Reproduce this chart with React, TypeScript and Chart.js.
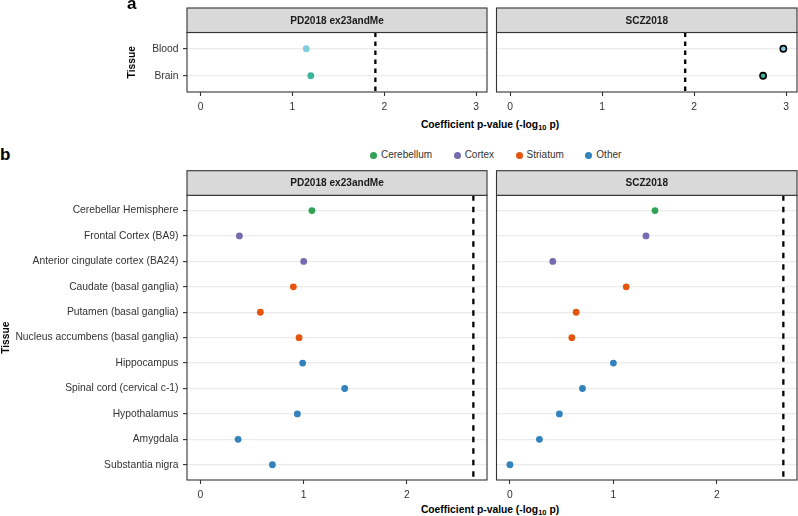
import React, { useEffect, useRef } from 'react';
import { Chart, registerables } from 'chart.js';

Chart.register(...registerables);

const FONT = '"Liberation Sans", Arial, Helvetica, sans-serif';
Chart.defaults.font.family = FONT;

// ---------- data ----------
const facetNames = ['PD2018 ex23andMe', 'SCZ2018'];

// panel a
const tissuesA = ['Blood', 'Brain'];
const colorsA = ['#7fcbe0', '#3db39b'];
const pdA = [1.15, 1.2];
const sczA = [2.97, 2.75];
const thresholdA = 1.903;
const xTicksA = [0, 1, 2, 3];

// panel b
const tissuesB = [
  'Cerebellar Hemisphere',
  'Frontal Cortex (BA9)',
  'Anterior cingulate cortex (BA24)',
  'Caudate (basal ganglia)',
  'Putamen (basal ganglia)',
  'Nucleus accumbens (basal ganglia)',
  'Hippocampus',
  'Spinal cord (cervical c-1)',
  'Hypothalamus',
  'Amygdala',
  'Substantia nigra',
];
const groupOfB = [
  'Cerebellum', 'Cortex', 'Cortex', 'Striatum', 'Striatum', 'Striatum',
  'Other', 'Other', 'Other', 'Other', 'Other',
];
const pdB = [1.08, 0.377, 1.0, 0.9, 0.58, 0.955, 0.99, 1.397, 0.939, 0.365, 0.697];
const sczB = [1.402, 1.315, 0.414, 1.124, 0.64, 0.598, 1.0, 0.701, 0.478, 0.285, 0.0];
const thresholdB = 2.643;
const xTicksB = [0, 1, 2];
const groupNames = ['Cerebellum', 'Cortex', 'Striatum', 'Other'];
const groupColors = ['#31a354', '#756bb1', '#e6550d', '#3182bd'];

// ---------- plugin ----------
const facetPlugin = {
  id: 'facetFrame',
  afterDraw(chart: any, _args: any, opts: any) {
    const { ctx, chartArea } = chart;
    const { left, right, top, bottom } = chartArea;
    ctx.save();
    ctx.lineWidth = 1.1;
    ctx.strokeStyle = '#333333';
    ctx.strokeRect(left, top, right - left, bottom - top);
    const hTop = opts.headerTop;
    ctx.fillStyle = '#d9d9d9';
    ctx.fillRect(left, hTop, right - left, top - hTop);
    ctx.strokeRect(left, hTop, right - left, top - hTop);
    ctx.fillStyle = '#1a1a1a';
    ctx.font = `bold 10.1px ${FONT}`;
    ctx.textAlign = 'center';
    ctx.textBaseline = 'middle';
    ctx.fillText(opts.title, (left + right) / 2, (hTop + top) / 2 + 0.5);
    ctx.restore();
  },
};

type FacetProps = {
  left: number; top: number; width: number; height: number;
  padTop: number; padLeft: number; padRight: number;
  yWidth: number; xHeight: number; headerTop: number;
  title: string; categories: string[]; showY: boolean;
  xMin: number; xMax: number; xTicks: number[];
  datasets: any[];
};

function Facet(p: FacetProps) {
  const ref = useRef<HTMLCanvasElement>(null);
  useEffect(() => {
    const n = p.categories.length;
    const chart = new Chart(ref.current as HTMLCanvasElement, {
      type: 'scatter',
      data: { datasets: p.datasets },
      options: {
        animation: false,
        responsive: false,
        devicePixelRatio: 1,
        events: [],
        layout: { padding: { top: p.padTop, left: p.padLeft, right: p.padRight, bottom: 0 } },
        plugins: {
          legend: { display: false },
          tooltip: { enabled: false },
          facetFrame: { headerTop: p.headerTop, title: p.title },
        } as any,
        scales: {
          x: {
            type: 'linear',
            position: 'bottom',
            min: p.xMin,
            max: p.xMax,
            afterBuildTicks: (s: any) => { s.ticks = p.xTicks.map((v) => ({ value: v })); },
            afterFit: (s: any) => { s.height = p.xHeight; },
            grid: { drawOnChartArea: false, drawTicks: true, tickLength: 4, tickColor: '#333333', tickWidth: 1.1 },
            border: { display: false },
            ticks: { font: { size: 10.3 }, color: '#333333', padding: 4.5, maxRotation: 0, autoSkip: false },
          },
          y: {
            type: 'linear',
            position: 'left',
            min: -0.6,
            max: n - 0.4,
            reverse: true,
            afterBuildTicks: (s: any) => { s.ticks = p.categories.map((_, i) => ({ value: i })); },
            afterFit: (s: any) => { s.width = p.yWidth; },
            grid: {
              color: '#ebebeb', lineWidth: 1.2,
              drawTicks: p.showY, tickLength: 4, tickColor: '#333333', tickWidth: 1.1,
            },
            border: { display: false },
            ticks: {
              display: p.showY, autoSkip: false, padding: 4.5,
              font: { size: 10.3 }, color: '#333333',
              callback: (v: any) => p.categories[Math.round(Number(v))] ?? '',
            },
            title: {
              display: p.showY, text: 'Tissue', color: '#000000',
              font: { size: 10.3, weight: 'bold' }, padding: 0,
            },
          },
        },
      } as any,
      plugins: [facetPlugin as any],
    });
    return () => chart.destroy();
  }, []);
  return (
    <canvas
      ref={ref}
      width={p.width}
      height={p.height}
      style={{ position: 'absolute', left: p.left, top: p.top, width: p.width, height: p.height }}
    />
  );
}

function thresholdLine(thr: number, n: number, dash: number[]) {
  return {
    label: 'threshold',
    showLine: true,
    data: [{ x: thr, y: -0.6 }, { x: thr, y: n - 0.4 }],
    borderColor: '#000000',
    borderWidth: 2.3,
    borderDash: dash,
    pointRadius: 0,
    fill: false,
  };
}

function datasetsA(values: number[]) {
  const ds: any[] = tissuesA.map((t, i) => {
    const sig = values[i] > thresholdA;
    return {
      label: t,
      data: [{ x: values[i], y: i }],
      backgroundColor: colorsA[i],
      borderColor: '#000000',
      pointRadius: sig ? 3.1 : 3.4,
      pointBorderWidth: sig ? 1.6 : 0,
    };
  });
  ds.push(thresholdLine(thresholdA, tissuesA.length, [4.5, 4.5]));
  return ds;
}

function datasetsB(values: number[]) {
  const ds: any[] = groupNames.map((g, gi) => ({
    label: g,
    data: tissuesB
      .map((_, i) => i)
      .filter((i) => groupOfB[i] === g)
      .map((i) => ({ x: values[i], y: i })),
    backgroundColor: groupColors[gi],
    borderColor: '#000000',
    pointRadius: 3.4,
    pointBorderWidth: 0,
  }));
  ds.push(thresholdLine(thresholdB, tissuesB.length, [5.5, 6]));
  return ds;
}

const labelStyle: React.CSSProperties = {
  position: 'absolute', fontFamily: FONT, fontWeight: 'bold', fontSize: 17,
  lineHeight: '17px', color: '#000', whiteSpace: 'nowrap',
};

function AxisTitle({ top }: { top: number }) {
  return (
    <div
      style={{
        position: 'absolute', left: 185, width: 610, top, textAlign: 'center',
        fontFamily: FONT, fontWeight: 'bold', fontSize: 10.3, lineHeight: '12px',
        color: '#000', whiteSpace: 'nowrap',
      }}
    >
      Coefficient p-value (-log<span style={{ fontSize: 7.5, verticalAlign: '-2px' }}>10</span> p)
    </div>
  );
}

export default function App() {
  const rangeA = [-0.1485, 3.1185];
  const rangeB = [-0.13, 2.775];
  return (
    <div style={{ position: 'absolute', left: 0, top: 0, width: 798, height: 516, overflow: 'hidden', background: '#fff' }}>
      <Facet
        left={126} top={0} width={380} height={116}
        padTop={32.5} padLeft={0} padRight={19}
        yWidth={61} xHeight={24} headerTop={8}
        title={facetNames[0]} categories={tissuesA} showY={true}
        xMin={rangeA[0]} xMax={rangeA[1]} xTicks={xTicksA}
        datasets={datasetsA(pdA)}
      />
      <Facet
        left={488} top={0} width={330} height={116}
        padTop={32.5} padLeft={8.5} padRight={21}
        yWidth={0} xHeight={24} headerTop={8}
        title={facetNames[1]} categories={tissuesA} showY={false}
        xMin={rangeA[0]} xMax={rangeA[1]} xTicks={xTicksA}
        datasets={datasetsA(sczA)}
      />
      <Facet
        left={0} top={166} width={506} height={336}
        padTop={29.3} padLeft={0} padRight={19}
        yWidth={187} xHeight={22} headerTop={4.7}
        title={facetNames[0]} categories={tissuesB} showY={true}
        xMin={rangeB[0]} xMax={rangeB[1]} xTicks={xTicksB}
        datasets={datasetsB(pdB)}
      />
      <Facet
        left={488} top={166} width={330} height={336}
        padTop={29.3} padLeft={8.5} padRight={21}
        yWidth={0} xHeight={22} headerTop={4.7}
        title={facetNames[1]} categories={tissuesB} showY={false}
        xMin={rangeB[0]} xMax={rangeB[1]} xTicks={xTicksB}
        datasets={datasetsB(sczB)}
      />
      <div style={{ ...labelStyle, left: 127, top: -5 }}>a</div>
      <div style={{ ...labelStyle, left: 0, top: 145.6 }}>b</div>
      <AxisTitle top={119} />
      <AxisTitle top={504} />
      <div
        style={{
          position: 'absolute', left: 370, top: 149.3, height: 12, display: 'flex',
          alignItems: 'center', gap: 21.5, fontFamily: FONT, fontSize: 10, color: '#333',
          whiteSpace: 'nowrap',
        }}
      >
        {groupNames.map((g, i) => (
          <div key={g} style={{ display: 'flex', alignItems: 'center' }}>
            <span
              style={{
                display: 'inline-block', width: 7, height: 7, borderRadius: '50%',
                background: groupColors[i], marginRight: 4,
              }}
            />
            <span style={{ lineHeight: '12px' }}>{g}</span>
          </div>
        ))}
      </div>
    </div>
  );
}
